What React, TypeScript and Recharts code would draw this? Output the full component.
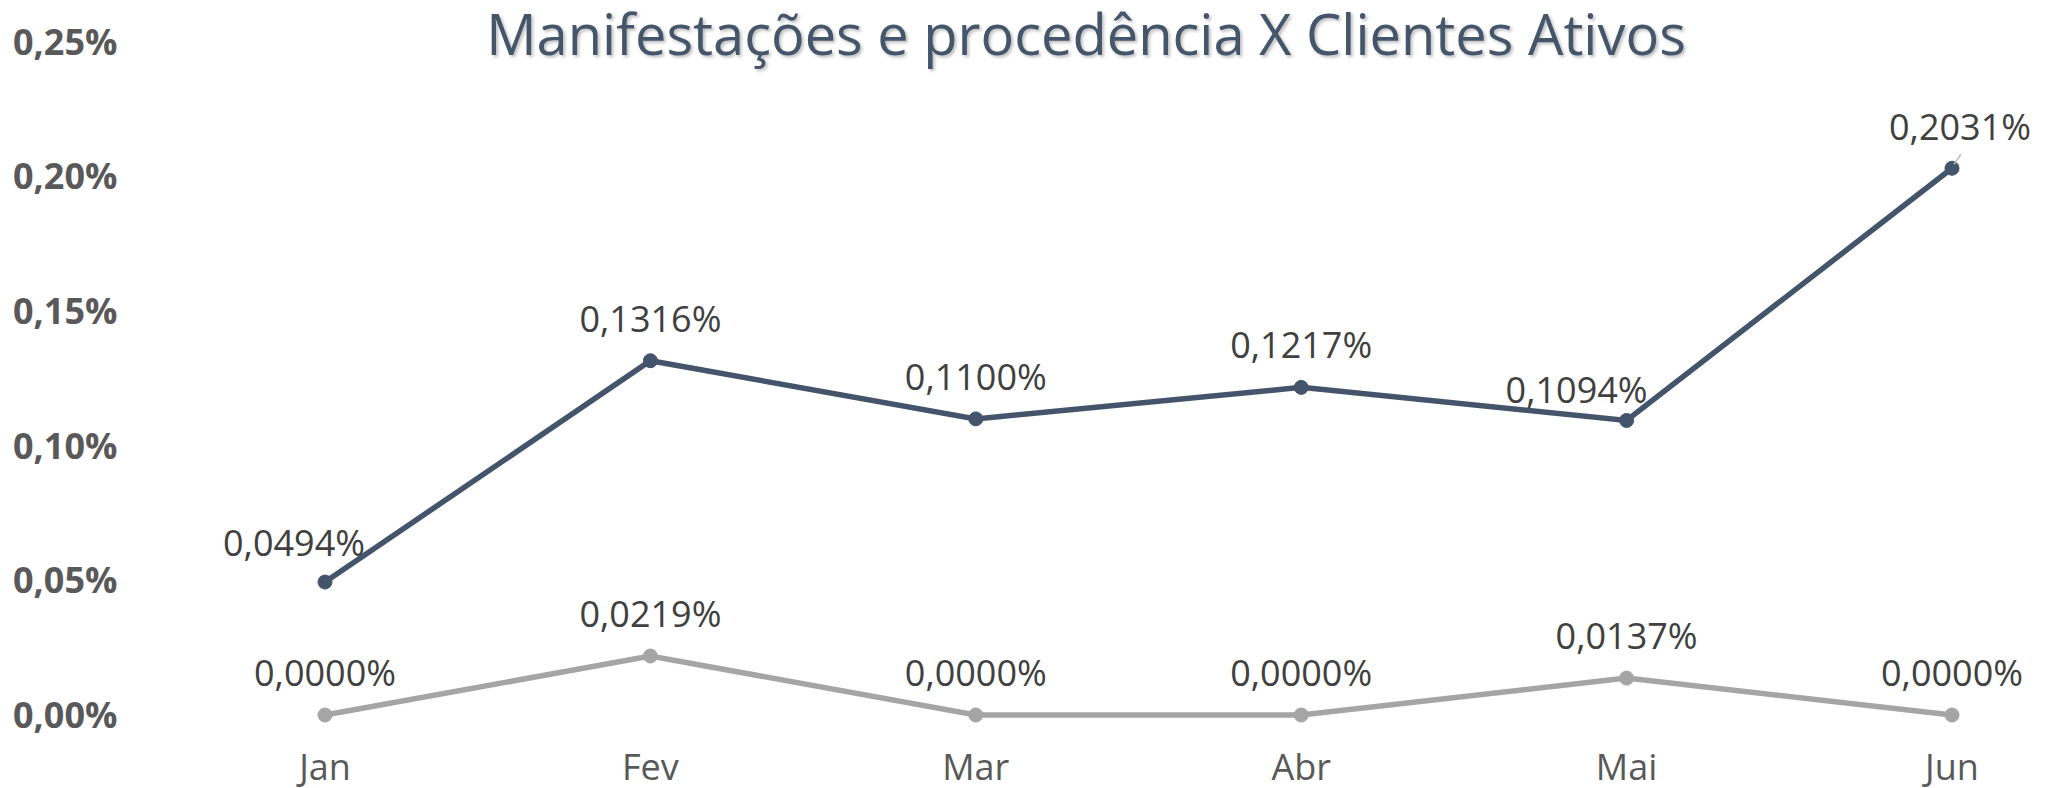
import { LineChart, Line, XAxis, YAxis, LabelList } from 'recharts'

const months = ['Jan', 'Fev', 'Mar', 'Abr', 'Mai', 'Jun']
// percent values, as shown on the labels
const manifestacoes = [0.0494, 0.1316, 0.11, 0.1217, 0.1094, 0.2031]
const procedencia = [0, 0.0219, 0, 0, 0.0137, 0]
const yTicks = [0, 0.05, 0.1, 0.15, 0.2, 0.25]

const data = months.map((m, i) => ({ name: m, manif: manifestacoes[i], proc: procedencia[i] }))

const FONT = "'Open Sans', 'Noto Sans', sans-serif"
const DARK = '#44546A'
const GRAY = '#A5A5A5'

// labels that were dragged by hand in the original
const darkLabelShift: Record<number, [number, number]> = {
  0: [-31, -39],
  4: [-50, -30],
  5: [8, -41],
}

const fmt = (v: number, d: number) => v.toFixed(d).replace('.', ',') + '%'

function YTick({ y, payload }: any) {
  return (
    <text x={13} y={y} dy="0.355em" textAnchor="start" fill="#595959" fontSize={36} fontWeight={700} fontFamily={FONT}>
      {fmt(payload.value, 2)}
    </text>
  )
}

function XTick({ x, y, payload }: any) {
  return (
    <text x={x} y={y + 44} dy="0.355em" textAnchor="middle" fill="#595959" fontSize={36} fontFamily={FONT}>
      {payload.value}
    </text>
  )
}

const makeLabel = (shifts: Record<number, [number, number]>) => (props: any) => {
  const { x, y, value, index } = props
  const [dx, dy] = shifts[index] || [0, -42]
  return (
    <g>
      {index === 5 && shifts === darkLabelShift && (
        <line x1={x + 2} y1={y - 4} x2={x + 9} y2={y - 14} stroke="#bfbfbf" strokeWidth={1.5} />
      )}
      <text x={x + dx} y={y + dy} dy="0.355em" textAnchor="middle" fill="#404040" fontSize={36} fontFamily={FONT}>
        {fmt(value, 4)}
      </text>
    </g>
  )
}

export default function App() {
  return (
    <div style={{ position: 'absolute', left: 0, top: 0, width: 2053, height: 788, background: '#fff' }}>
      <LineChart width={2053} height={788} data={data} margin={{ top: 42, right: 0, bottom: 0, left: 0 }}>
        <XAxis
          dataKey="name"
          height={73}
          axisLine={false}
          tickLine={false}
          tick={<XTick />}
          padding={{ left: 165, right: 101 }}
          interval={0}
        />
        <YAxis
          width={160}
          domain={[0, 0.25]}
          ticks={yTicks}
          axisLine={false}
          tickLine={false}
          tick={<YTick />}
        />
        <Line
          dataKey="proc"
          stroke={GRAY}
          strokeWidth={5.5}
          dot={{ r: 7, fill: GRAY, stroke: GRAY, strokeWidth: 1 }}
          isAnimationActive={false}
        >
          <LabelList dataKey="proc" content={makeLabel({})} />
        </Line>
        <Line
          dataKey="manif"
          stroke={DARK}
          strokeWidth={5.5}
          dot={{ r: 7, fill: DARK, stroke: DARK, strokeWidth: 1 }}
          isAnimationActive={false}
        >
          <LabelList dataKey="manif" content={makeLabel(darkLabelShift)} />
        </Line>
      </LineChart>
      <svg width={2053} height={90} style={{ position: 'absolute', left: 0, top: 0 }}>
        <defs>
          <filter id="sh" x="-5%" y="-20%" width="110%" height="150%">
            <feDropShadow dx="2" dy="2" stdDeviation="1.5" floodColor="#000" floodOpacity="0.25" />
          </filter>
        </defs>
        <text x={1086} y={55} textAnchor="middle" fill={DARK} fontSize={56} fontFamily={FONT} filter="url(#sh)">
          Manifestações e procedência X Clientes Ativos
        </text>
      </svg>
    </div>
  )
}
